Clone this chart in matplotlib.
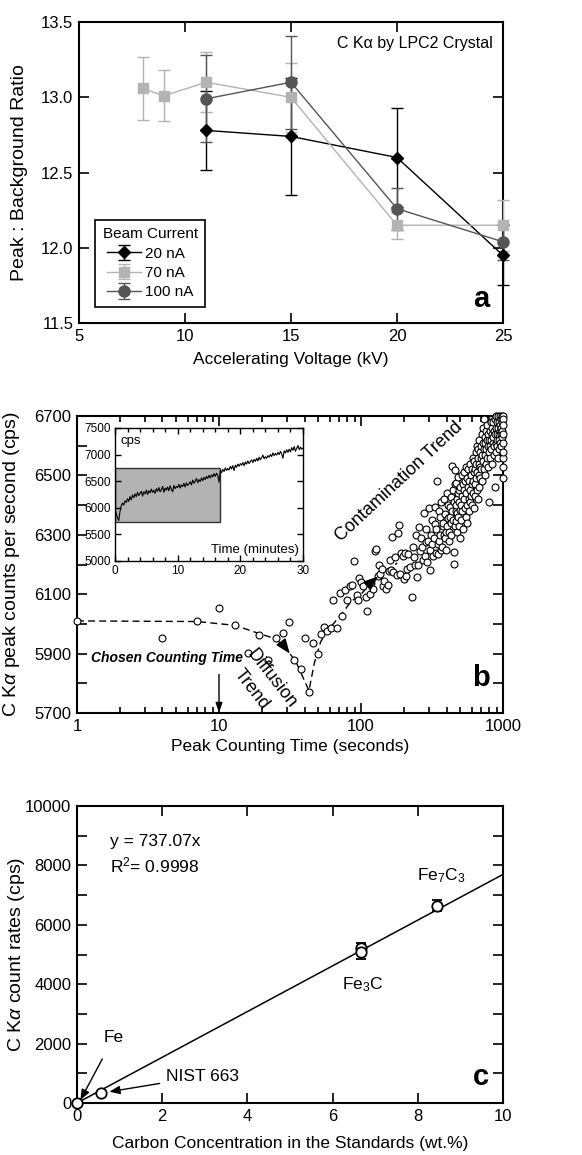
import numpy as np
import matplotlib
matplotlib.use("Agg")
import matplotlib.pyplot as plt
from matplotlib.patches import Rectangle
from matplotlib.ticker import MultipleLocator, FixedLocator, NullFormatter

plt.rcParams["font.family"] = ["Liberation Sans", "DejaVu Sans"]
plt.rcParams["mathtext.fontset"] = "custom"
plt.rcParams["mathtext.rm"] = "Liberation Sans"
plt.rcParams["mathtext.it"] = "Liberation Sans:italic"

# ---- panel a: peak/background ratio vs accelerating voltage
kv_20 = [11, 15, 20, 25]
pb_20 = [12.78, 12.74, 12.60, 11.95]
err_20 = [0.26, 0.39, 0.33, 0.20]
kv_70 = [8, 9, 11, 15, 20, 25]
pb_70 = [13.06, 13.01, 13.10, 13.00, 12.15, 12.15]
err_70 = [0.21, 0.17, 0.20, 0.23, 0.09, 0.17]
kv_100 = [11, 15, 20, 25]
pb_100 = [12.99, 13.10, 12.26, 12.04]
err_100 = [0.29, 0.31, 0.14, 0.12]

# ---- panel b: count rate vs counting time
diff_t = [1, 4, 7, 10, 13, 16, 19, 22, 25, 28, 31, 34, 37.5, 40, 43, 46, 49.5, 52,
          55, 58, 61, 64, 68, 71, 74, 77, 80, 84, 87, 89, 93, 95, 97]
diff_cps = [6010, 5954, 6010, 6052, 5996, 5903, 5964, 5878, 5951, 5971, 6007, 5878,
            5848, 5953, 5770, 5934, 5898, 5967, 5988, 5975, 5985, 6082, 5985, 6103,
            6028, 6115, 6082, 6128, 6132, 6213, 6098, 6079, 6154]
cont_t = [100, 104, 108, 110, 115, 118, 121, 125, 127, 131, 133, 137, 140, 143, 146, 151,
          154, 157, 159, 163, 165, 169, 173, 178, 182, 186, 188, 192, 196,
          200, 204, 207, 212, 215, 220, 228, 231, 236, 240, 245, 249, 252, 257, 260, 265,
          270, 274, 277, 280, 285, 288, 290, 296,
          302, 305, 308, 310, 315, 318, 320, 325, 330, 333, 335, 340, 344, 346, 348, 352,
          355, 358, 362, 365, 368, 372, 375, 378, 383, 386, 388, 393, 396, 398,
          403, 406, 410, 413, 415, 418, 420, 424, 428, 431, 433, 437, 438, 442, 445, 448,
          450, 454, 456, 458, 460, 463, 465, 468, 470, 473, 475, 478, 480, 483, 485, 488,
          490, 493, 495, 498,
          500, 505, 508, 512, 515, 518, 522, 525, 528, 532, 535, 538, 542, 545, 548, 552,
          555, 558, 562, 565, 568, 572, 575, 578, 582, 585, 589, 592, 596,
          600, 604, 608, 612, 615, 618, 622, 625, 628, 632, 635, 638, 642, 645, 648, 652,
          655, 658, 662, 665, 668, 672, 675, 678, 682, 685, 688, 692, 696,
          700, 704, 708, 712, 715, 718, 722, 726, 731, 734, 738, 742, 745, 749, 752, 756,
          760, 764, 768, 772, 776, 780, 784, 788, 794, 798,
          802, 806, 810, 815, 820, 824, 828, 832, 836, 840, 845, 850, 855, 860, 865, 870,
          873, 878, 882, 886, 890, 895, 898,
          902, 906, 910, 914, 918, 922, 926, 930, 934, 938, 942, 946, 950, 954, 958, 962,
          966, 970, 974, 978, 982, 986, 990, 994, 998, 1000, 1000, 1000, 1000, 1000, 996, 992]
cont_cps = [6141, 6129, 6090, 6045, 6099, 6137, 6118, 6246, 6252, 6161, 6197, 6169, 6185, 6129, 6143, 6118,
            6132, 6178, 6214, 6180, 6293, 6175, 6225, 6165, 6305, 6333, 6169, 6239, 6228,
            6152, 6239, 6160, 6186, 6237, 6190, 6092, 6260, 6225, 6200, 6300, 6158, 6197, 6327, 6245, 6288,
            6260, 6215, 6375, 6230, 6320, 6275, 6210, 6280,
            6391, 6250, 6180, 6300, 6350, 6270, 6230, 6290, 6395, 6335, 6240, 6320, 6480, 6270, 6237, 6280,
            6380, 6360, 6300, 6250, 6410, 6260, 6330, 6340, 6420, 6300, 6290, 6370, 6310, 6250,
            6330, 6440, 6400, 6355, 6280, 6310, 6360, 6395, 6429, 6340, 6300, 6531, 6380, 6450, 6350, 6410,
            6203, 6242, 6470, 6330, 6519, 6380, 6400, 6345, 6474, 6420, 6310, 6375, 6440, 6495, 6360, 6330,
            6410, 6450, 6290, 6385,
            6460, 6400, 6350, 6500, 6430, 6380, 6470, 6320, 6420, 6510, 6450, 6390, 6480, 6360, 6530, 6440,
            6400, 6490, 6340, 6460, 6520, 6420, 6480, 6380, 6540, 6450, 6411, 6500, 6430,
            6470, 6520, 6400, 6560, 6480, 6440, 6510, 6390, 6550, 6470, 6520, 6430, 6580, 6490, 6540, 6450,
            6600, 6510, 6560, 6420, 6590, 6500, 6540, 6460, 6620, 6530, 6580, 6490, 6560,
            6600, 6520, 6640, 6570, 6480, 6610, 6550, 6660, 6690, 6590, 6520, 6630, 6570, 6610, 6500, 6650,
            6590, 6540, 6620, 6670, 6560, 6600, 6640, 6530, 6411, 6620,
            6580, 6650, 6600, 6560, 6680, 6620, 6590, 6640, 6540, 6660, 6610, 6630, 6680, 6570, 6650, 6600,
            6460, 6690, 6640, 6610, 6660, 6580, 6700,
            6640, 6620, 6680, 6600, 6660, 6560, 6700, 6640, 6620, 6680, 6590, 6650, 6700, 6610, 6670, 6640,
            6690, 6600, 6660, 6700, 6630, 6680, 6650, 6700, 6610, 6690, 6670, 6640, 6560, 6490, 6580, 6530]
curve_t = [1, 7, 13, 19, 25, 30, 35, 43, 47, 52, 60, 72, 85, 100, 125, 180]
curve_cps = [6010, 6008, 5995, 5968, 5950, 5915, 5870, 5775, 5870, 5940, 5985, 6030, 6075, 6100, 6152, 6205]

# inset: count rate vs time (0.2 min steps)
inset_cps = [5960, 5890, 5810, 5760, 5930, 6040, 6090, 6050, 6130, 6100, 6170,
             6120, 6210, 6150, 6240, 6190, 6260, 6210, 6290, 6230, 6270,
             6310, 6220, 6300, 6260, 6330, 6250, 6320, 6280, 6350, 6290,
             6330, 6270, 6360, 6310, 6380, 6300, 6340, 6400, 6290, 6370,
             6330, 6390, 6320, 6410, 6350, 6300, 6420, 6360, 6400, 6380,
             6440, 6370, 6430, 6400, 6460, 6390, 6470, 6420, 6450, 6490,
             6430, 6520, 6460, 6500, 6550, 6470, 6530, 6490, 6560, 6510,
             6570, 6530, 6590, 6550, 6610, 6560, 6620, 6580, 6640, 6590,
             6650, 6610, 6480, 6700, 6660, 6720, 6680, 6750, 6700, 6740,
             6710, 6780, 6730, 6790, 6700, 6800, 6760, 6820, 6780, 6830,
             6800, 6850, 6790, 6860, 6820, 6880, 6830, 6870, 6900, 6850,
             6910, 6870, 6930, 6880, 6950, 6900, 6940, 6990, 6920, 6960,
             6930, 6980, 6950, 7000, 6960, 7030, 6980, 7020, 6990, 7040,
             7000, 7060, 7010, 6930, 7070, 7030, 7090, 7040, 7100, 7050,
             7130, 7080, 7150, 7060, 7120, 7170, 7090, 7140, 7100, 7120]
inset_time = np.linspace(0, 30, len(inset_cps))
chosen_box = (0, 5735, 16.7, 6740)  # t0, cps0, t1, cps1

# ---- panel c: calibration
std_conc = [0.0, 0.57, 6.67, 6.67, 8.45]
std_cps = [0, 340, 5210, 5070, 6650]
std_err = [0, 0, 180, 230, 175]
fit_conc = [0, 10]
fit_cps = [0, 7700]


def style(ax, size=12):
    ax.tick_params(which="both", direction="in", top=True, right=True,
                   labelsize=size, width=1.2, pad=4)
    ax.tick_params(which="major", length=7)
    ax.tick_params(which="minor", length=4)
    for s in ax.spines.values():
        s.set_linewidth(1.5)


fig = plt.figure(figsize=(5.82, 11.55), dpi=100)

# ================= a
ax = fig.add_axes([0.1357, 0.7203, 0.7285, 0.2606])
series = [(kv_20, pb_20, err_20, "D", "black", 6, "20 nA"),
          (kv_70, pb_70, err_70, "s", "#b3b3b3", 7, "70 nA"),
          (kv_100, pb_100, err_100, "o", "#555555", 8, "100 nA")]
handles = []
for x, y, e, m, c, ms, lab in series:
    h = ax.errorbar(x, y, yerr=e, marker=m, color=c, ms=ms, lw=1, elinewidth=1,
                    capsize=4, capthick=1, label=lab, clip_on=False, zorder=3)
    handles.append(h)
ax.set_xlim(5, 25)
ax.set_ylim(11.5, 13.5)
ax.set_xticks([5, 10, 15, 20, 25])
ax.set_yticks([11.5, 12.0, 12.5, 13.0, 13.5])
ax.yaxis.set_major_formatter(plt.FuncFormatter(lambda v, p: f"{v:.1f}"))
style(ax)
ax.set_xlabel("Accelerating Voltage (kV)", fontsize=12.5)
ax.set_ylabel("Peak : Background Ratio", fontsize=14)
ax.yaxis.set_label_coords(-0.12, 0.5)
ax.xaxis.set_label_coords(0.5, -0.097)
leg = ax.legend(handles=handles, title="Beam Current", loc="lower left",
                bbox_to_anchor=(0.038, 0.053), borderaxespad=0, fancybox=False,
                edgecolor="black", fontsize=11, title_fontsize=11, handlelength=2.2,
                borderpad=0.5, labelspacing=0.35, handletextpad=0.3)
leg.get_frame().set_linewidth(1.2)
leg.get_frame().set_alpha(1)
ax.text(0.975, 0.93, "C Kα by LPC2 Crystal", transform=ax.transAxes, ha="right",
        va="center", fontsize=11.5)
ax.text(0.968, 0.035, "a", transform=ax.transAxes, ha="right", va="bottom",
        fontsize=21, fontweight="bold")

# ================= b
ax = fig.add_axes([0.1323, 0.3827, 0.732, 0.2571])
ax.set_xscale("log")
ax.plot(curve_t, curve_cps, ls=(0, (5, 3)), color="black", lw=1, zorder=2)
ax.plot(diff_t, diff_cps, "o", mfc="white", mec="black", ms=5, mew=0.8,
        clip_on=False, zorder=3)
ax.plot(cont_t, cont_cps, "o", mfc="white", mec="black", ms=5, mew=0.8,
        clip_on=False, zorder=3)
head = dict(arrowstyle="-|>,head_length=0.9,head_width=0.35", color="black", lw=1,
            shrinkA=0, shrinkB=0, mutation_scale=10)
ax.annotate("", xy=(31.5, 5900), xytext=(28.5, 5928), arrowprops=head, zorder=4)
ax.annotate("", xy=(132, 6160), xytext=(118, 6140), arrowprops=head, zorder=4)
ax.annotate("", xy=(10, 5700), xytext=(10, 5830),
            arrowprops=dict(arrowstyle="-|>,head_length=0.6,head_width=0.2",
                            color="black", lw=1, shrinkA=0, shrinkB=0))
ax.text(4.3, 5886, "Chosen Counting Time", ha="center", va="center", fontsize=10,
        fontweight="bold", fontstyle="italic")
ax.text(23.5, 5815, "Diffusion", rotation=-52, ha="center", va="center", fontsize=13,
        rotation_mode="anchor")
ax.text(17, 5780, "Trend", rotation=-52, ha="center", va="center", fontsize=13,
        rotation_mode="anchor")
ax.text(185, 6478, "Contamination Trend", rotation=43, ha="center", va="center",
        fontsize=13, rotation_mode="anchor")
ax.set_xlim(1, 1000)
ax.set_ylim(5700, 6700)
ax.set_xticks([1, 10, 100, 1000])
ax.set_xticklabels(["1", "10", "100", "1000"])
ax.xaxis.set_minor_formatter(NullFormatter())
ax.set_yticks([5700, 5900, 6100, 6300, 6500, 6700])
ax.yaxis.set_minor_locator(FixedLocator([5800, 6000, 6200, 6400, 6600]))
style(ax)
ax.tick_params(axis="y", which="minor", length=7)
ax.set_xlabel("Peak Counting Time (seconds)", fontsize=12.5)
ax.set_ylabel(r"C K$\alpha$ peak counts per second (cps)", fontsize=14)
ax.yaxis.set_label_coords(-0.129, 0.5)
ax.xaxis.set_label_coords(0.5, -0.088)
ax.text(0.968, 0.07, "b", transform=ax.transAxes, ha="right", va="bottom",
        fontsize=21, fontweight="bold")

# inset
ins = fig.add_axes([0.1976, 0.5143, 0.323, 0.1152])
t0, c0, t1, c1 = chosen_box
ins.add_patch(Rectangle((t0, c0), t1 - t0, c1 - c0, facecolor="#b3b3b3",
                        edgecolor="#333333", lw=1, zorder=1))
ins.plot(inset_time, inset_cps, color="black", lw=0.8, zorder=2)
ins.set_xlim(0, 30)
ins.set_ylim(5000, 7500)
ins.set_xticks([0, 10, 20, 30])
ins.xaxis.set_minor_locator(MultipleLocator(2))
ins.set_yticks([5000, 5500, 6000, 6500, 7000, 7500])
ins.tick_params(which="both", direction="in", top=True, right=True, labelsize=8.5,
                width=1, pad=3)
ins.tick_params(which="major", length=4)
ins.tick_params(which="minor", length=3)
for s in ins.spines.values():
    s.set_linewidth(1)
ins.text(0.03, 0.95, "cps", transform=ins.transAxes, ha="left", va="top", fontsize=9.5)
ins.text(0.98, 0.04, "Time (minutes)", transform=ins.transAxes, ha="right",
         va="bottom", fontsize=9.5)

# ================= c
ax = fig.add_axes([0.1323, 0.045, 0.732, 0.2571])
ax.plot(fit_conc, fit_cps, color="black", lw=1.1, zorder=2)
ax.errorbar(std_conc, std_cps, yerr=std_err, fmt="o", mfc="white", mec="black",
            ecolor="black", ms=7.5, mew=1.3, elinewidth=1, capsize=3.5, capthick=1,
            clip_on=False, zorder=3)
ax.set_xlim(0, 10)
ax.set_ylim(0, 10000)
ax.set_xticks([0, 2, 4, 6, 8, 10])
ax.set_yticks([0, 2000, 4000, 6000, 8000, 10000])
ax.yaxis.set_minor_locator(FixedLocator([1000, 3000, 5000, 7000, 9000]))
style(ax)
ax.tick_params(axis="y", which="minor", length=7)
ax.set_xlabel("Carbon Concentration in the Standards (wt.%)", fontsize=12.5)
ax.set_ylabel(r"C K$\alpha$ count rates (cps)", fontsize=14)
ax.yaxis.set_label_coords(-0.117, 0.5)
ax.xaxis.set_label_coords(0.5, -0.112)
ax.text(0.78, 8800, "y = 737.07x", ha="left", va="center", fontsize=12.5)
ax.text(0.78, 8000, r"R$^2$= 0.9998", ha="left", va="center", fontsize=12.5)
ax.text(8.55, 7650, r"Fe$_7$C$_3$", ha="center", va="center", fontsize=12.5)
ax.text(6.7, 4000, r"Fe$_3$C", ha="center", va="center", fontsize=12.5)
ax.annotate("Fe", xy=(0.08, 100), xytext=(0.86, 2200), ha="center", va="center",
            fontsize=12.5,
            arrowprops=dict(arrowstyle="-|>,head_length=0.5,head_width=0.2",
                            color="black", lw=1, shrinkA=9, shrinkB=0))
ax.annotate("NIST 663", xy=(0.76, 380), xytext=(2.1, 900), ha="left", va="center",
            fontsize=12.5,
            arrowprops=dict(arrowstyle="-|>,head_length=0.5,head_width=0.2",
                            color="black", lw=1, shrinkA=3, shrinkB=0))
ax.text(0.968, 0.04, "c", transform=ax.transAxes, ha="right", va="bottom",
        fontsize=21, fontweight="bold")

fig.savefig("out.png", dpi=100)
